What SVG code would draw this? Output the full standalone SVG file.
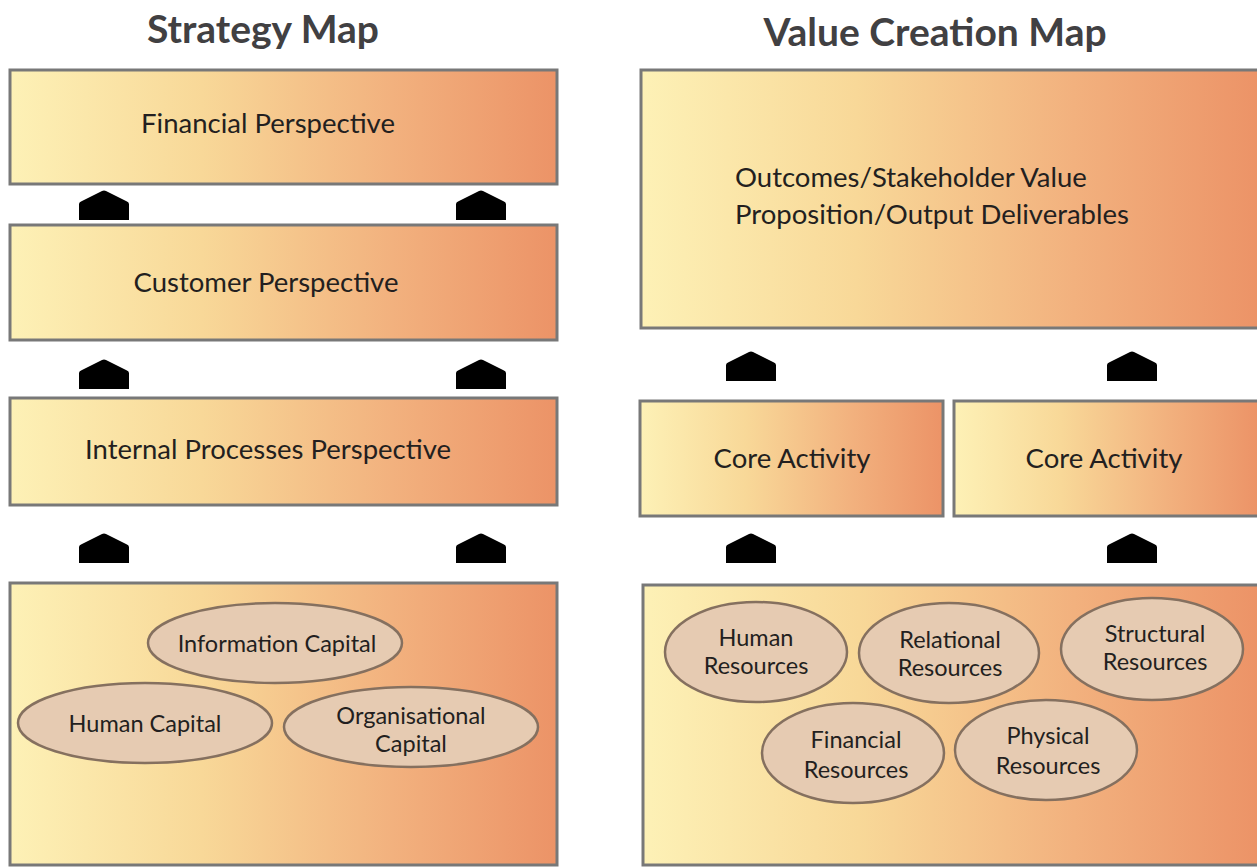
<svg xmlns="http://www.w3.org/2000/svg" width="1257" height="868" viewBox="0 0 1257 868">
<style>
.box{stroke:#787878;stroke-width:3;fill:url(#g)}
.ell{fill:#E6CBB2;stroke:#85705F;stroke-width:2.5}
.t{font-family:"Lato","Liberation Sans",sans-serif;font-size:27.5px;fill:#231F20;text-anchor:middle}
.te{font-family:"Lato","Liberation Sans",sans-serif;font-size:23.5px;fill:#231F20;text-anchor:middle}
.title{font-family:"Lato","Liberation Sans",sans-serif;font-size:39px;font-weight:bold;fill:#414042;text-anchor:middle}
</style>
<defs>
<linearGradient id="g" x1="0" y1="0" x2="1" y2="0">
<stop offset="0" stop-color="#FDF1B6"/>
<stop offset="0.35" stop-color="#F8D898"/>
<stop offset="0.7" stop-color="#F2B17E"/>
<stop offset="1" stop-color="#EC9367"/>
</linearGradient>
<path id="house" d="M-25,-1 Q-25,-3 -22,-4 L-2,-14 Q0,-15 2,-14 L22,-4 Q25,-3 25,-1 L25,15 L-25,15 Z" fill="#000"/>
</defs>
<rect width="1257" height="868" fill="#fff"/>
<text class="title" x="263" y="43">Strategy Map</text>
<text class="title" x="935" y="46">Value Creation Map</text>

<g id="financial"><rect class="box" x="10" y="70" width="547" height="114"/><text class="t" x="268" y="133">Financial Perspective</text></g>
<g id="customer"><rect class="box" x="10" y="225" width="547" height="115"/><text class="t" x="266" y="292">Customer Perspective</text></g>
<g id="internal"><rect class="box" x="10" y="398" width="547" height="107"/><text class="t" x="268" y="459">Internal Processes Perspective</text></g>
<g id="capital"><rect class="box" x="10" y="583" width="547" height="282"/>
<g id="info-capital"><ellipse class="ell" cx="275" cy="643" rx="127" ry="40"/><text class="te" x="277" y="652">Information Capital</text></g>
<g id="human-capital"><ellipse class="ell" cx="145" cy="723" rx="127" ry="40"/><text class="te" x="145" y="732">Human Capital</text></g>
<g id="org-capital"><ellipse class="ell" cx="411" cy="727" rx="127" ry="40"/><text class="te" x="411" y="724">Organisational</text><text class="te" x="411" y="752">Capital</text></g>
</g>

<g id="outcomes"><rect class="box" x="641" y="70" width="618" height="258"/><text class="t" x="735" y="187" style="text-anchor:start">Outcomes/Stakeholder Value</text><text class="t" x="735" y="224" style="text-anchor:start">Proposition/Output Deliverables</text></g>
<g id="core1"><rect class="box" x="640" y="401" width="303" height="115"/><text class="t" x="792" y="468">Core Activity</text></g>
<g id="core2"><rect class="box" x="954" y="401" width="305" height="115"/><text class="t" x="1104" y="468">Core Activity</text></g>
<g id="resources"><rect class="box" x="643" y="585" width="616" height="280"/>
<g id="human-res"><ellipse class="ell" cx="756" cy="652" rx="91" ry="50"/><text class="te" x="756" y="646">Human</text><text class="te" x="756" y="674">Resources</text></g>
<g id="relational-res"><ellipse class="ell" cx="949" cy="653" rx="90" ry="50"/><text class="te" x="950" y="648">Relational</text><text class="te" x="950" y="676">Resources</text></g>
<g id="structural-res"><ellipse class="ell" cx="1152" cy="649" rx="91" ry="51"/><text class="te" x="1155" y="642">Structural</text><text class="te" x="1155" y="670">Resources</text></g>
<g id="financial-res"><ellipse class="ell" cx="853" cy="753" rx="91" ry="50"/><text class="te" x="856" y="748">Financial</text><text class="te" x="856" y="778">Resources</text></g>
<g id="physical-res"><ellipse class="ell" cx="1046" cy="750" rx="91" ry="50"/><text class="te" x="1048" y="744">Physical</text><text class="te" x="1048" y="774">Resources</text></g>
</g>

<g id="connectors">
<use href="#house" x="104" y="205"/>
<use href="#house" x="481" y="205"/>
<use href="#house" x="104" y="374"/>
<use href="#house" x="481" y="374"/>
<use href="#house" x="104" y="548"/>
<use href="#house" x="481" y="548"/>
<use href="#house" x="751" y="366"/>
<use href="#house" x="1132" y="366"/>
<use href="#house" x="751" y="548"/>
<use href="#house" x="1132" y="548"/>
</g>
</svg>
